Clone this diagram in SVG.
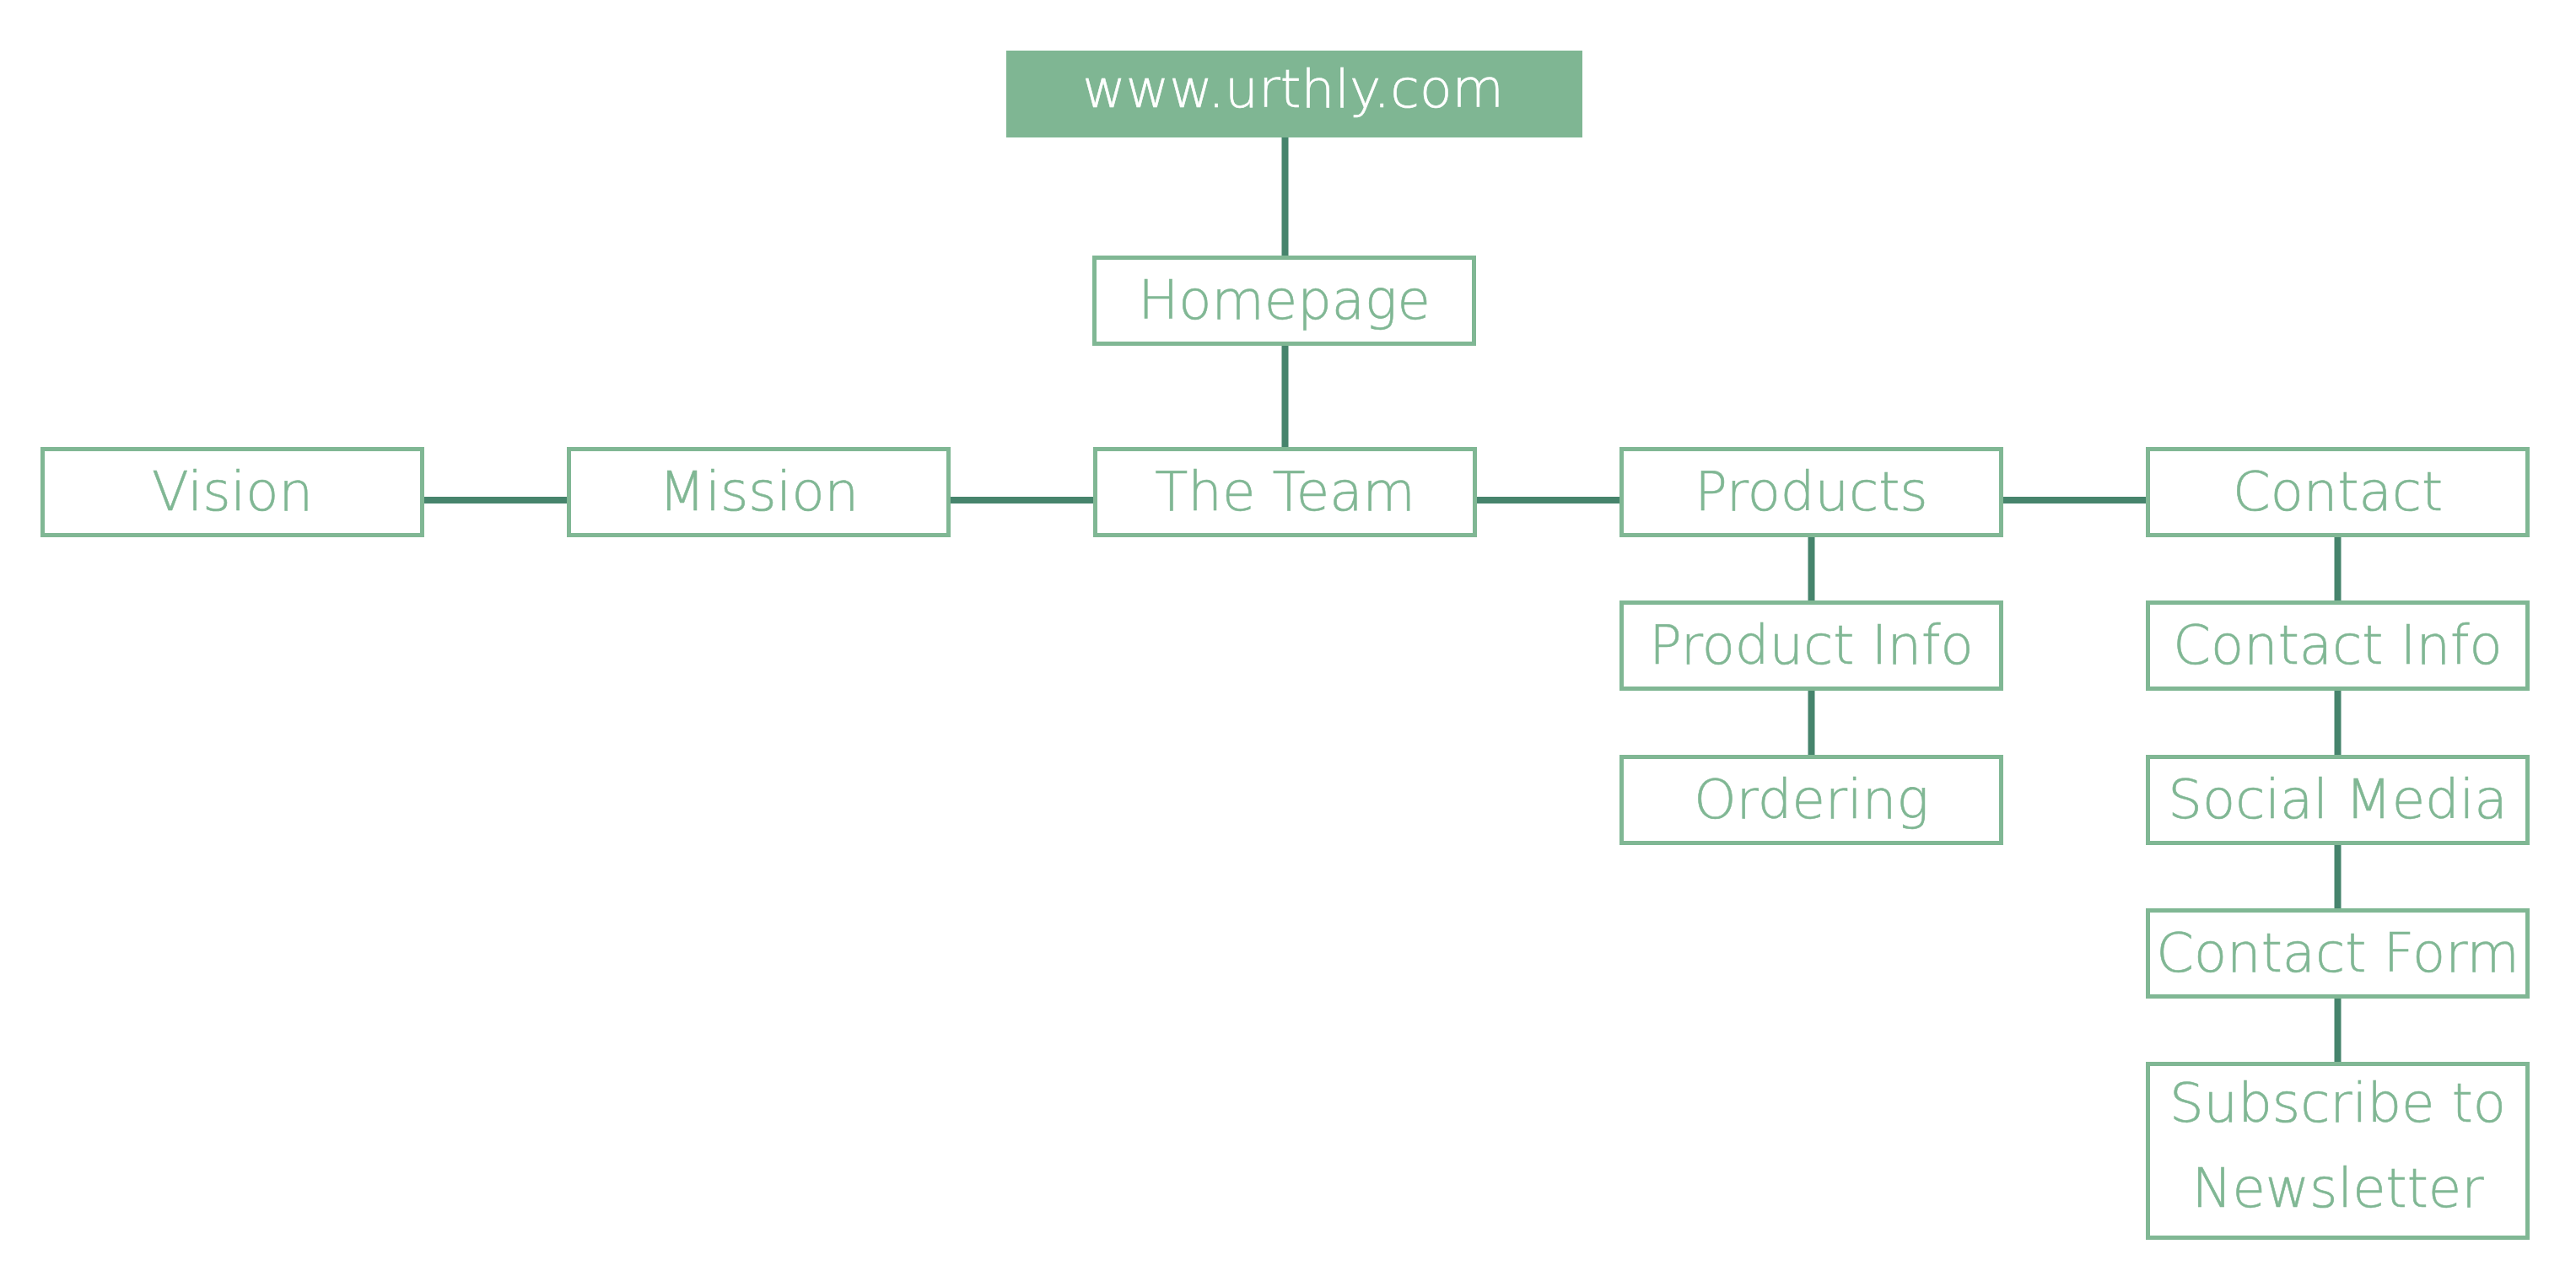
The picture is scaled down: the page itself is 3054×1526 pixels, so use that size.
<svg xmlns="http://www.w3.org/2000/svg" width="3054" height="1526" viewBox="0 0 3054 1526">
  <style>
    .box { fill: #ffffff; stroke: #80b794; stroke-width: 5; }
    .lbl { fill: #80b794; stroke: #80b794; stroke-width: 0.6; font-family: "DejaVu Sans", "Liberation Sans", sans-serif; font-weight: 300; font-size: 64px; text-anchor: middle; }
    .top { fill: #7fb693; }
    .toplbl { fill: #ffffff; stroke: #ffffff; stroke-width: 0.6; font-family: "DejaVu Sans", "Liberation Sans", sans-serif; font-weight: 300; font-size: 63px; text-anchor: middle; }
    .con { stroke: #46846c; stroke-width: 8; fill: none; }
  </style>
  <rect width="3054" height="1526" fill="#ffffff"/>
  <g id="connectors">
    <line class="con" x1="1523.5" y1="163" x2="1523.5" y2="303"/>
    <line class="con" x1="1523.5" y1="410" x2="1523.5" y2="530"/>
    <line class="con" x1="503" y1="593" x2="672" y2="593"/>
    <line class="con" x1="1127" y1="593" x2="1296" y2="593"/>
    <line class="con" x1="1751" y1="593" x2="1920" y2="593"/>
    <line class="con" x1="2375" y1="593" x2="2544" y2="593"/>
    <line class="con" x1="2147.5" y1="637" x2="2147.5" y2="712"/>
    <line class="con" x1="2147.5" y1="819" x2="2147.5" y2="895"/>
    <line class="con" x1="2771.5" y1="637" x2="2771.5" y2="712"/>
    <line class="con" x1="2771.5" y1="819" x2="2771.5" y2="895"/>
    <line class="con" x1="2771.5" y1="1002" x2="2771.5" y2="1077"/>
    <line class="con" x1="2771.5" y1="1184" x2="2771.5" y2="1259"/>
  </g>
  <g id="site">
    <rect class="top" x="1193" y="60" width="683" height="103"/>
    <text class="toplbl" x="1533" y="127">www.urthly.com</text>
  </g>
  <g id="homepage">
    <rect class="box" x="1297.5" y="305.5" width="450" height="102"/>
    <text class="lbl" x="1522.5" y="378">Homepage</text>
  </g>
  <g id="vision">
    <rect class="box" x="50.5" y="532.5" width="450" height="102"/>
    <text class="lbl" x="275.5" y="605">Vision</text>
  </g>
  <g id="mission">
    <rect class="box" x="674.5" y="532.5" width="450" height="102"/>
    <text class="lbl" x="899.5" y="605">Mission</text>
  </g>
  <g id="the-team">
    <rect class="box" x="1298.5" y="532.5" width="450" height="102"/>
    <text class="lbl" x="1523.5" y="605">The Team</text>
  </g>
  <g id="products">
    <rect class="box" x="1922.5" y="532.5" width="450" height="102"/>
    <text class="lbl" x="2147.5" y="605">Products</text>
  </g>
  <g id="contact">
    <rect class="box" x="2546.5" y="532.5" width="450" height="102"/>
    <text class="lbl" x="2771.5" y="605">Contact</text>
  </g>
  <g id="product-info">
    <rect class="box" x="1922.5" y="714.5" width="450" height="102"/>
    <text class="lbl" x="2147.5" y="787">Product Info</text>
  </g>
  <g id="ordering">
    <rect class="box" x="1922.5" y="897.5" width="450" height="102"/>
    <text class="lbl" x="2147.5" y="970">Ordering</text>
  </g>
  <g id="contact-info">
    <rect class="box" x="2546.5" y="714.5" width="450" height="102"/>
    <text class="lbl" x="2771.5" y="787">Contact Info</text>
  </g>
  <g id="social-media">
    <rect class="box" x="2546.5" y="897.5" width="450" height="102"/>
    <text class="lbl" x="2771.5" y="970">Social Media</text>
  </g>
  <g id="contact-form">
    <rect class="box" x="2546.5" y="1079.5" width="450" height="102"/>
    <text class="lbl" x="2771.5" y="1152">Contact Form</text>
  </g>
  <g id="subscribe">
    <rect class="box" x="2546.5" y="1261.5" width="450" height="206"/>
    <text class="lbl" x="2771.5" y="1330">Subscribe to</text>
    <text class="lbl" x="2771.5" y="1431">Newsletter</text>
  </g>
</svg>
